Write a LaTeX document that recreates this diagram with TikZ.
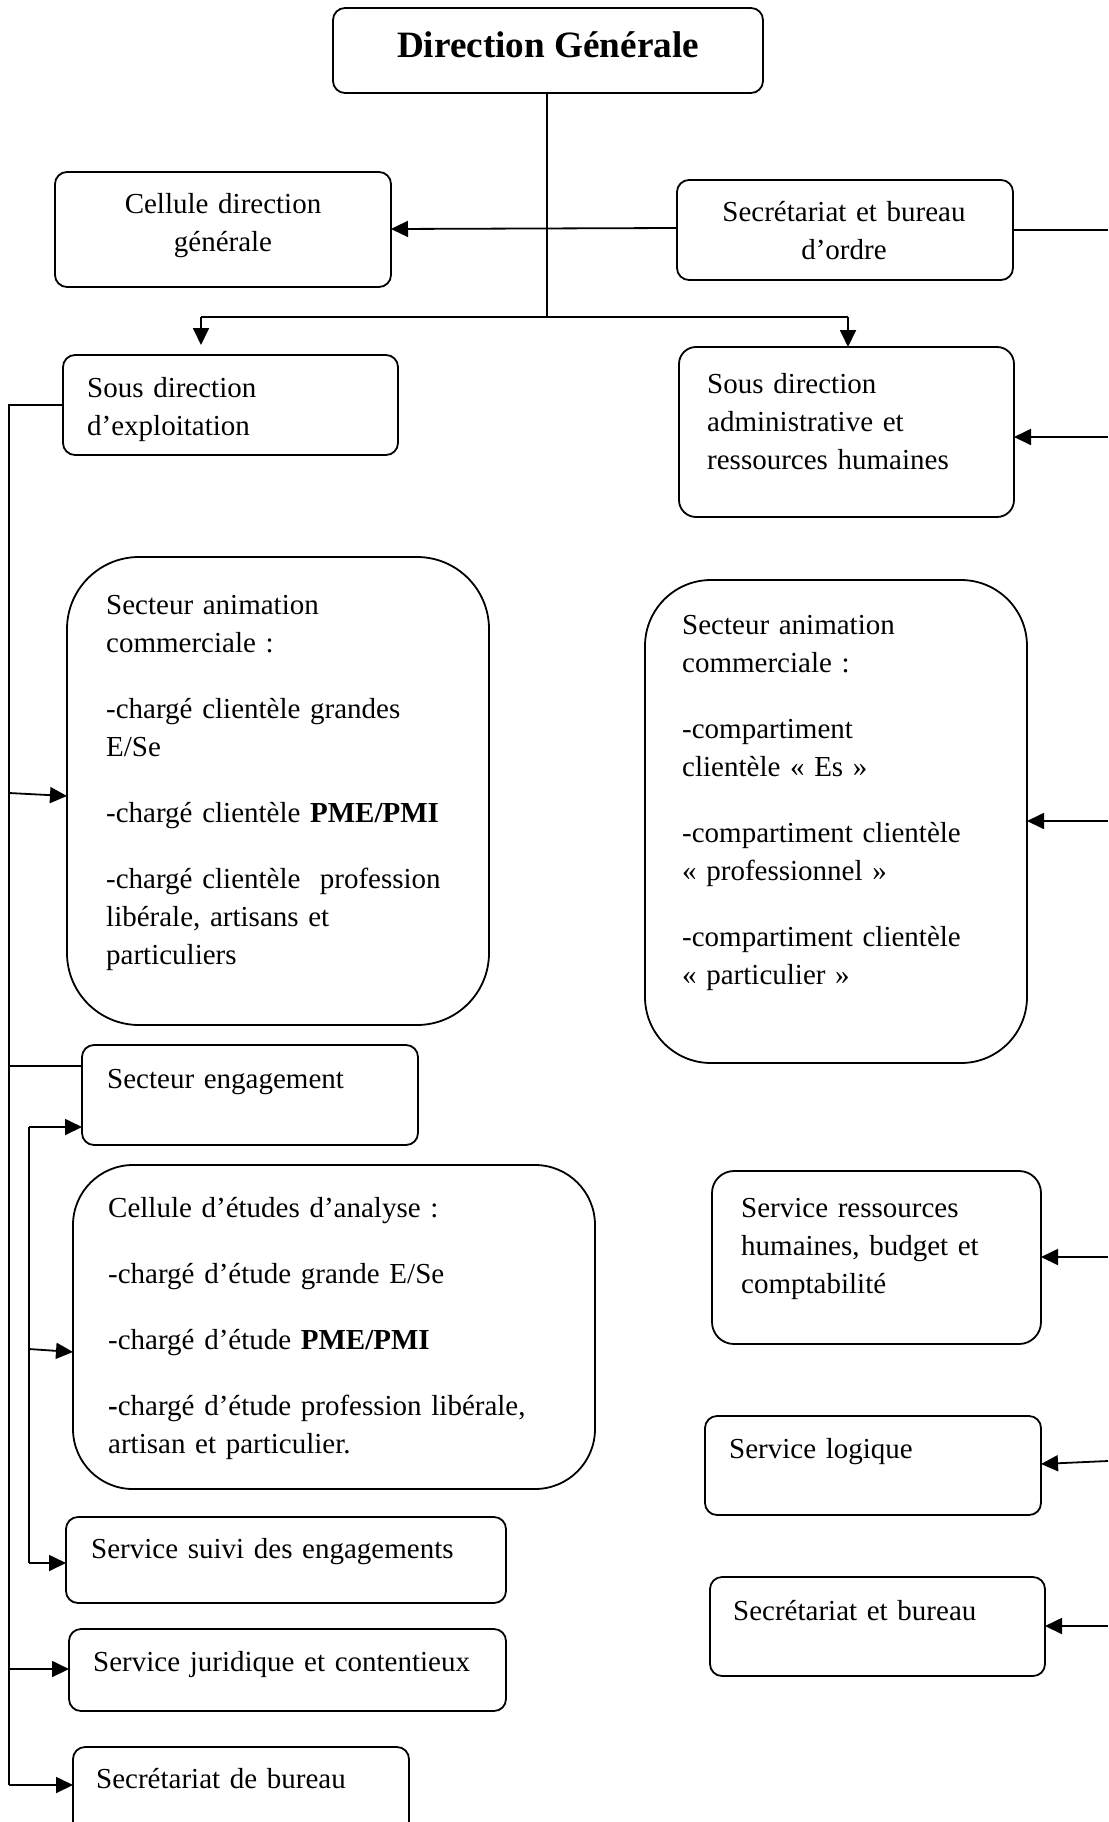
\documentclass[tikz,border=0pt]{standalone}
\usepackage{fontspec}
\setmainfont{Liberation Serif}
\usetikzlibrary{arrows.meta}

\tikzset{
  box/.style={draw, line width=1.8pt, rounded corners=#1, anchor=north west, inner sep=0pt, outer sep=0pt},
  box/.default=12pt,
  txt/.style={anchor=base west, inner sep=0pt, text width=560pt, align=left,
              font=\fontsize{29}{38}\selectfont},
  ctxt/.style={anchor=base, inner sep=0pt, text width=330pt, align=center,
              font=\fontsize{29}{38}\selectfont},
  wire/.style={line width=1.8pt},
  arr/.style={line width=1.8pt, -{Triangle[length=17pt,width=16pt]}},
}

\begin{document}
\begin{tikzpicture}[x=1pt,y=-1pt]
\useasboundingbox (0,0) rectangle (1108,1822);
\clip (0,0) rectangle (1108,1822);

% ---------- boxes ----------
\node[box] (dg)    at (333,8)   [minimum width=430pt, minimum height=85pt] {};
\node[box] (cdg)   at (55,172)  [minimum width=336pt, minimum height=115pt] {};
\node[box] (sbo)   at (677,180) [minimum width=336pt, minimum height=100pt] {};
\node[box] (sde)   at (63,355)  [minimum width=335pt, minimum height=100pt] {};
\node[box=17pt] (sda) at (679,347) [minimum width=335pt, minimum height=170pt] {};

\node[box=72pt] (sacl) at (67,557)  [minimum width=422pt, minimum height=468pt] {};
\node[box=66pt] (sacr) at (645,580) [minimum width=382pt, minimum height=483pt] {};

\node[box] (seng)  at (82,1045)  [minimum width=336pt, minimum height=100pt] {};
\node[box=60pt] (cea) at (73,1165) [minimum width=522pt, minimum height=324pt] {};
\node[box] (ssuivi) at (66,1517) [minimum width=440pt, minimum height=86pt] {};
\node[box] (sjur)  at (69,1629)  [minimum width=437pt, minimum height=82pt] {};
\node[box] (sdb)   at (73,1747)  [minimum width=336pt, minimum height=100pt] {};

\node[box=22pt] (srh) at (712,1171) [minimum width=329pt, minimum height=173pt] {};
\node[box] (slog)  at (705,1416) [minimum width=336pt, minimum height=99pt] {};
\node[box] (sbur)  at (710,1577) [minimum width=335pt, minimum height=99pt] {};

% ---------- texts ----------
\node[anchor=base, inner sep=0pt, font=\fontsize{37.2}{44}\selectfont\bfseries] (tdg) at (548,58) {Direction Générale};
\node[ctxt] (tcdg) at (223,214) {Cellule direction\\générale};
\node[ctxt] (tsbo) at (844,221) {Secrétariat et bureau\\d’ordre};
\node[txt] (tsde) at (87,397) {Sous direction\\d’exploitation};
\node[txt] (tsda) at (707,393) {Sous direction\\administrative et\\ressources humaines};
\node[txt] (tsacl) at (106,614) {Secteur animation\\commerciale :\\[28pt]-chargé clientèle grandes\\E/Se\\[28pt]-chargé clientèle \textbf{PME/PMI}\\[28pt]-chargé clientèle\ \ profession\\libérale, artisans et\\particuliers};
\node[txt] (tsacr) at (682,634) {Secteur animation\\commerciale :\\[28pt]-compartiment\\clientèle « Es »\\[28pt]-compartiment clientèle\\« professionnel »\\[28pt]-compartiment clientèle\\« particulier »};
\node[txt] (tseng) at (107,1088) {Secteur engagement};
\node[txt] (tcea) at (108,1217) {Cellule d’études d’analyse :\\[28pt]-chargé d’étude grande E/Se\\[28pt]-chargé d’étude \textbf{PME/PMI}\\[28pt]\textbf{-}chargé d’étude profession libérale,\\artisan et particulier.};
\node[txt] (tssuivi) at (91,1558) {Service suivi des engagements};
\node[txt] (tsjur) at (93,1671) {Service juridique et contentieux};
\node[txt] (tsdb) at (96,1788) {Secrétariat de bureau};
\node[txt] (tsrh) at (741,1217) {Service ressources\\humaines, budget et\\comptabilité};
\node[txt] (tslog) at (729,1458) {Service logique};
\node[txt] (tsbur) at (733,1620) {Secrétariat et bureau};

% ---------- top connectors ----------
\coordinate (split) at (547,317);
\draw[wire] (dg.south -| split) -- (split);
\draw[wire] (split) -- (201,317) coordinate (lsplit);
\draw[wire] (split) -- (848,317) coordinate (rsplit);
\draw[arr] (lsplit) -- (201,345);
\draw[arr] (rsplit) -- (rsplit |- sda.north);
\draw[arr] (sbo.west |- 0,228) -- (cdg.east |- 0,229);

% ---------- right bus (runs off to the right) ----------
\coordinate (rb1) at (1108,230);
\coordinate (rb2) at (1108,437);
\coordinate (rb3) at (1108,821);
\coordinate (rb4) at (1108,1257);
\coordinate (rb5) at (1108,1461);
\coordinate (rb6) at (1108,1626);
\draw[wire] (sbo.east |- rb1) -- (rb1);
\draw[arr] (rb2) -- (sda.east |- rb2);
\draw[arr] (rb3) -- (sacr.east |- rb3);
\draw[arr] (rb4) -- (srh.east |- rb4);
\draw[arr] (rb5) -- (slog.east |- 0,1464);
\draw[arr] (rb6) -- (sbur.east |- rb6);

% ---------- left main bus ----------
\coordinate (lb0) at (9,405);
\coordinate (lb1) at (9,793);
\coordinate (lb2) at (9,1066);
\coordinate (lb3) at (9,1669);
\coordinate (lb4) at (9,1785);
\draw[wire] (sde.west |- lb0) -- (lb0) -- (lb4);
\draw[arr] (lb1) -- (sacl.west |- 0,796);
\draw[wire] (lb2) -- (seng.west |- lb2);
\draw[arr] (lb3) -- (sjur.west |- lb3);
\draw[arr] (lb4) -- (sdb.west |- lb4);

% ---------- left inner bus ----------
\coordinate (ib1) at (29,1127);
\coordinate (ib2) at (29,1349);
\coordinate (ib3) at (29,1563);
\draw[wire] (ib1) -- (ib3);
\draw[arr] (ib1) -- (seng.west |- ib1);
\draw[arr] (ib2) -- (cea.west |- 0,1352);
\draw[arr] (ib3) -- (ssuivi.west |- ib3);
\end{tikzpicture}
\end{document}
